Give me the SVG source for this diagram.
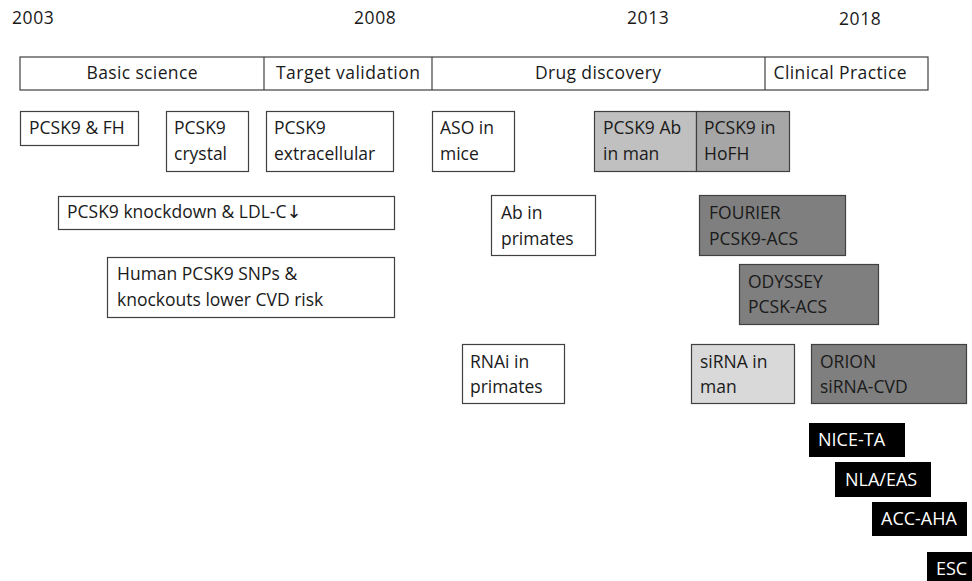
<svg xmlns="http://www.w3.org/2000/svg" width="972" height="581" viewBox="0 0 972 581">
<style>
text{font-family:"Open Sans","Noto Sans","Liberation Sans",sans-serif;font-size:17.5px;fill:#1a1a1a}
.y{font-size:17.5px;letter-spacing:0.6px}
.b{stroke:#404040;stroke-width:1.2}
.w{fill:#ffffff}
.k{fill:#000000;stroke:none}
.wt{fill:#ffffff;font-size:18px}
</style>
<rect width="972" height="581" fill="#ffffff"/>
<g id="years">
<text class="y" x="12" y="24">2003</text>
<text class="y" x="354" y="24">2008</text>
<text class="y" x="627" y="24">2013</text>
<text class="y" x="839" y="25">2018</text>
</g>
<g id="phases">
<rect class="b w" x="20" y="57" width="908" height="33"/>
<line class="b" x1="264" y1="57" x2="264" y2="90"/>
<line class="b" x1="432" y1="57" x2="432" y2="90"/>
<line class="b" x1="765" y1="57" x2="765" y2="90"/>
<text x="142" y="79" text-anchor="middle" textLength="111">Basic science</text>
<text x="348" y="79" text-anchor="middle" textLength="144">Target validation</text>
<text x="598" y="79" text-anchor="middle" textLength="126">Drug discovery</text>
<text x="840" y="79" text-anchor="middle" textLength="133">Clinical Practice</text>
</g>
<g id="n-fh"><rect class="b w" x="20.5" y="111.5" width="118" height="34"/><text x="29" y="134">PCSK9 &amp; FH</text></g>
<g id="n-crystal"><rect class="b w" x="166.5" y="111.5" width="82" height="60"/><text x="174" y="134">PCSK9</text><text x="174" y="160">crystal</text></g>
<g id="n-extra"><rect class="b w" x="266.5" y="111.5" width="127" height="60"/><text x="274" y="134">PCSK9</text><text x="274" y="160">extracellular</text></g>
<g id="n-aso"><rect class="b w" x="432.5" y="111.5" width="82" height="60"/><text x="440" y="134">ASO in</text><text x="440" y="160">mice</text></g>
<g id="n-abman"><rect class="b" fill="#c0c0c0" x="594.5" y="111.5" width="102" height="60"/><text x="603" y="134">PCSK9 Ab</text><text x="603" y="160">in man</text></g>
<g id="n-hofh"><rect class="b" fill="#a6a6a6" x="696.5" y="111.5" width="93" height="60"/><text x="704" y="134">PCSK9 in</text><text x="704" y="160">HoFH</text></g>
<g id="n-knock"><rect class="b w" x="58.5" y="196.5" width="336" height="33"/><text x="67" y="218">PCSK9 knockdown &amp; LDL-C<tspan font-family="DejaVu Sans" font-size="18">↓</tspan></text></g>
<g id="n-snps"><rect class="b w" x="107.5" y="257.5" width="287" height="60"/><text x="117" y="280">Human PCSK9 SNPs &amp;</text><text x="117" y="306">knockouts lower CVD risk</text></g>
<g id="n-abprim"><rect class="b w" x="491.5" y="195.5" width="104" height="60"/><text x="501" y="219">Ab in</text><text x="501" y="245">primates</text></g>
<g id="n-fourier"><rect class="b" fill="#7f7f7f" x="699.5" y="195.5" width="146" height="60"/><text x="709" y="219">FOURIER</text><text x="709" y="245">PCSK9-ACS</text></g>
<g id="n-odyssey"><rect class="b" fill="#7f7f7f" x="739.5" y="264.5" width="139" height="60"/><text x="748" y="288">ODYSSEY</text><text x="748" y="313">PCSK-ACS</text></g>
<g id="n-rnai"><rect class="b w" x="462.5" y="344.5" width="102" height="59"/><text x="470" y="368">RNAi in</text><text x="470" y="393">primates</text></g>
<g id="n-sirna"><rect class="b" fill="#d9d9d9" x="691.5" y="344.5" width="103" height="59"/><text x="700" y="368">siRNA in</text><text x="700" y="393">man</text></g>
<g id="n-orion"><rect class="b" fill="#7f7f7f" x="811.5" y="344.5" width="155" height="59"/><text x="820" y="368">ORION</text><text x="820" y="393">siRNA-CVD</text></g>
<g id="n-nice"><rect class="k" x="809" y="423" width="96" height="34"/><text class="wt" x="818" y="446">NICE-TA</text></g>
<g id="n-nla"><rect class="k" x="835" y="462" width="96" height="35"/><text class="wt" x="845" y="486">NLA/EAS</text></g>
<g id="n-acc"><rect class="k" x="872" y="502" width="95" height="34"/><text class="wt" x="881" y="525">ACC-AHA</text></g>
<g id="n-esc"><rect class="k" x="927" y="552" width="45" height="29"/><text class="wt" x="936" y="575">ESC</text></g>
<g id="connectors"></g>
</svg>
